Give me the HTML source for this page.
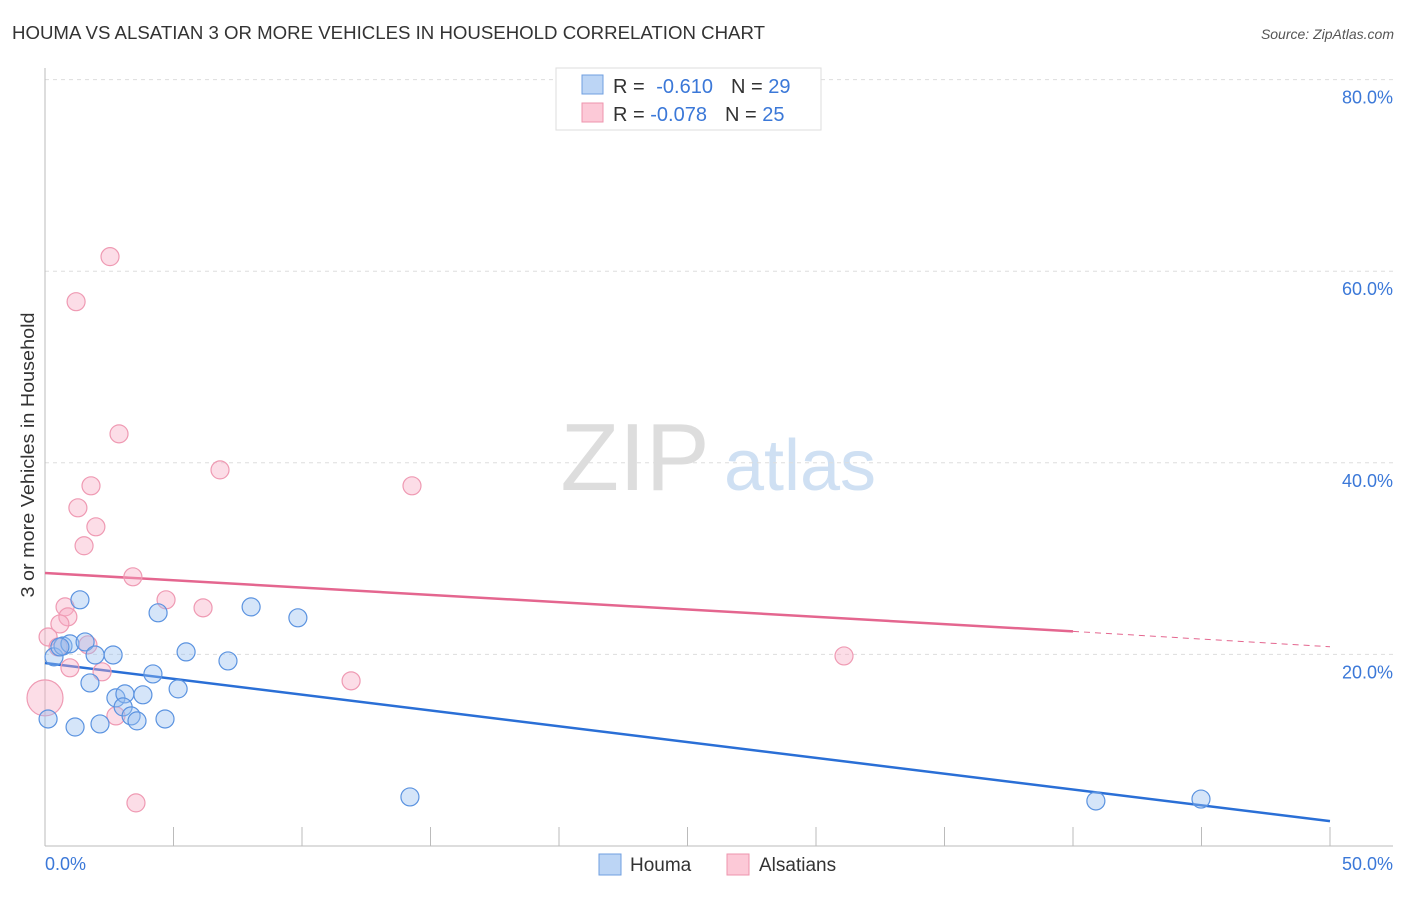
<!DOCTYPE html>
<html><head><meta charset="utf-8"><style>
body{margin:0;background:#fff;font-family:"Liberation Sans",sans-serif}
svg text{font-family:"Liberation Sans",sans-serif}
</style></head><body>
<svg id="chart" width="1406" height="892" xmlns="http://www.w3.org/2000/svg">
<text x="12" y="39" font-size="18" fill="#333" textLength="753" lengthAdjust="spacingAndGlyphs">HOUMA VS ALSATIAN 3 OR MORE VEHICLES IN HOUSEHOLD CORRELATION CHART</text>
<text x="1394" y="39" font-size="14" fill="#555" font-style="italic" text-anchor="end">Source: ZipAtlas.com</text>
<g>
<text x="635" y="490" font-size="96" fill="#ddd" font-family="Liberation Serif" text-anchor="middle">ZIP</text>
<text x="800" y="490" font-size="72" fill="#cfe0f3" text-anchor="middle">atlas</text>
</g>
<g id="grid"></g>
<g id="axes"></g>
<g id="lines"></g>
<g id="points"></g>
<text x="34" y="455" font-size="18" fill="#333" text-anchor="middle" textLength="285" lengthAdjust="spacingAndGlyphs" transform="rotate(-90 34 455)">3 or more Vehicles in Household</text>
<text x="45" y="870" font-size="18" fill="#3b78d8">0.0%</text>
<text x="1393" y="870" font-size="18" fill="#3b78d8" text-anchor="end">50.0%</text>
<g>
<rect x="556" y="68" width="265" height="62" fill="#fff" stroke="#ddd"/>
<rect x="582" y="75" width="21" height="19" fill="#bcd5f5" stroke="#6f9fe0"/>
<rect x="582" y="103" width="21" height="19" fill="#fcc9d7" stroke="#ee94ae"/>
<text x="613" y="93" font-size="20" fill="#333">R = <tspan fill="#3b78d8" dx="6">-0.610</tspan><tspan dx="18" fill="#333">N = </tspan><tspan fill="#3b78d8">29</tspan></text>
<text x="613" y="121" font-size="20" fill="#333">R = <tspan fill="#3b78d8">-0.078</tspan><tspan dx="18" fill="#333">N = </tspan><tspan fill="#3b78d8">25</tspan></text>
</g>
<g>
<rect x="599" y="854" width="22" height="21" fill="#bcd5f5" stroke="#6f9fe0"/>
<text x="630" y="871" font-size="19" fill="#333">Houma</text>
<rect x="727" y="854" width="22" height="21" fill="#fcc9d7" stroke="#ee94ae"/>
<text x="759" y="871" font-size="19" fill="#333">Alsatians</text>
</g>
</svg>
<script>
const houmaX=[1.36,0.35,0.70,0.97,1.56,1.95,2.65,1.75,2.76,3.11,3.81,3.04,3.35,3.58,4.67,4.20,5.18,4.40,5.49,7.12,8.02,9.84,1.17,2.14,0.12,14.20,40.89,44.98,0.58];
const houmaY=[25.7,19.74,20.88,21.1,21.3,19.94,19.94,17.02,15.46,15.88,15.78,14.52,13.58,13.06,13.26,17.96,16.4,24.34,20.26,19.32,24.96,23.82,12.42,12.74,13.26,5.12,4.7,4.9,20.78];
const alsX=[2.53,1.21,2.88,6.81,1.79,1.28,1.98,1.52,3.42,14.28,4.71,0.78,0.89,0.58,0.12,6.15,1.67,2.22,0.97,11.91,31.09,2.76,3.54,0,0.51];
const alsY=[61.52,56.82,43.02,39.26,37.6,35.3,33.32,31.34,28.1,37.6,25.7,24.96,23.92,23.18,21.82,24.86,21,18.18,18.6,17.24,19.84,13.58,4.5,15.46,20.78];
const alsR=[9,9,9,9,9,9,9,9,9,9,9,9,9,9,9,9,9,9,9,9,9,9,9,18,9];
const houmaTrend=[19.1,2.6];
const alsTrend=[28.5,22.4,20.8];
const yTicks=[20,40,60,80];
const xTicks=[0,5,10,15,20,25,30,35,40,45,50];
const NS="http://www.w3.org/2000/svg";
const X=v=>45+v*25.7, Y=v=>846-v*9.58;
function mk(t,a,p){const e=document.createElementNS(NS,t);for(const k in a)e.setAttribute(k,a[k]);document.getElementById(p).appendChild(e);return e;}
yTicks.forEach(t=>{
const g=mk('line',{x1:45,x2:1393,y1:Y(t),y2:Y(t),stroke:'#ddd','stroke-dasharray':'4,4'},'grid');


const l=mk('text',{x:1393,y:Y(t)+24,'font-size':18,fill:'#3b78d8','text-anchor':'end'},'grid');
l.textContent=t.toFixed(1)+'%';


});
const ax=mk('line',{x1:45,x2:1393,y1:846,y2:846,stroke:'#bbb'},'axes');


const ay=mk('line',{x1:45,x2:45,y1:68,y2:846,stroke:'#bbb'},'axes');


xTicks.forEach(t=>{const k=mk('line',{x1:X(t),x2:X(t),y1:827,y2:846,stroke:'#bbb'},'axes');

});
function pts(xs,ys,rs,fill,stroke,name){xs.forEach((x,i)=>{const c=mk('circle',{cx:X(x),cy:Y(ys[i]),r:rs?rs[i]:9,fill:fill,stroke:stroke,'stroke-width':1.2},'points');

});}
pts(alsX,alsY,alsR,'rgba(248,170,195,0.4)','#ef9ab3','alsatians-point');
pts(houmaX,houmaY,null,'rgba(150,190,240,0.4)','#5b93e0','houma-point');
const bl=mk('line',{x1:X(0),y1:Y(houmaTrend[0]),x2:X(50),y2:Y(houmaTrend[1]),stroke:'#2a6fd6','stroke-width':2.5},'lines');


const pl=mk('line',{x1:X(0),y1:Y(alsTrend[0]),x2:X(40),y2:Y(alsTrend[1]),stroke:'#e4668f','stroke-width':2.5},'lines');


const pd=mk('line',{x1:X(40),y1:Y(alsTrend[1]),x2:X(50),y2:Y(alsTrend[2]),stroke:'#e4668f','stroke-width':1,'stroke-dasharray':'6,5'},'lines');


</script>
</body></html>
